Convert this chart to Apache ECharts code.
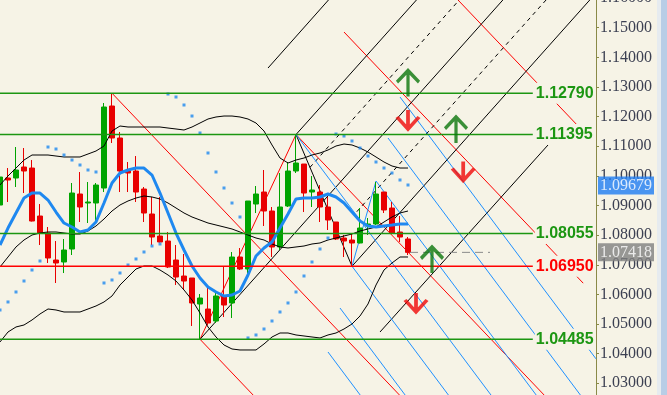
<!DOCTYPE html>
<html><head><meta charset="utf-8">
<script src="https://cdn.jsdelivr.net/npm/echarts@6/dist/echarts.min.js"></script>
<style>html,body{margin:0;padding:0;background:#f6f3e6;}#c{width:667px;height:395px;}</style>
</head><body><div id="c"></div>
<script>
// ---- candle data (open, close, low, high) ----
const opens  = [1.09016,1.09928,1.09928,1.10299,1.10265,1.08645,1.08071,1.07160,1.07093,1.07531,1.09388,1.09084,1.09084,1.09590,1.12358,1.11278,1.10164,1.10164,1.09556,1.08713,1.07970,1.07801,1.07160,1.06620,1.06553,1.05675,1.05506,1.05101,1.05945,1.05709,1.07261,1.06856,1.09050,1.09455,1.08814,1.07599,1.08983,1.10164,1.10400,1.09455,1.09455,1.08949,1.08443,1.07903,1.07835,1.07734,1.08308,1.08375,1.09455,1.08915,1.08105,1.07869];
const closes = [1.09961,1.09860,1.10198,1.10164,1.08476,1.08071,1.07228,1.07059,1.07498,1.09421,1.08949,1.09118,1.09691,1.12324,1.11278,1.10164,1.10096,1.09455,1.08746,1.07936,1.07768,1.06924,1.06586,1.06451,1.05709,1.05878,1.05034,1.05945,1.05641,1.07261,1.06856,1.09151,1.09388,1.08814,1.07599,1.08949,1.10164,1.10434,1.09421,1.09523,1.08949,1.08510,1.07869,1.07801,1.07734,1.08240,1.08375,1.09388,1.08848,1.08071,1.07936,1.07418];
const lows   = [1.08341,1.09118,1.09624,1.09421,1.08460,1.07666,1.07059,1.06384,1.06721,1.07329,1.08443,1.08409,1.08443,1.09455,1.11109,1.09455,1.09455,1.09118,1.08443,1.07666,1.07750,1.06890,1.06316,1.06148,1.04933,1.04485,1.04966,1.05034,1.05236,1.05203,1.06823,1.06688,1.08746,1.08308,1.07261,1.07498,1.08949,1.10096,1.08780,1.08949,1.08443,1.08173,1.07835,1.07261,1.06950,1.07720,1.08004,1.08341,1.08746,1.08060,1.07768,1.07329];
const highs  = [1.10771,1.10265,1.10974,1.10940,1.10535,1.09050,1.08274,1.07801,1.07869,1.09759,1.10130,1.09793,1.09759,1.12459,1.12790,1.11480,1.10468,1.10670,1.09624,1.09286,1.09286,1.08105,1.07666,1.07363,1.06553,1.06013,1.06316,1.06080,1.06924,1.07430,1.07565,1.09151,1.09658,1.10198,1.08949,1.10096,1.10468,1.11395,1.10400,1.09995,1.09691,1.09286,1.08443,1.08004,1.08038,1.08915,1.08578,1.09793,1.09455,1.09118,1.08645,1.07936];

// ---- indicators ----
const maValues = [1.07666,1.08240,1.08746,1.09253,1.09421,1.09421,1.09185,1.08780,1.08409,1.08274,1.08105,1.08173,1.08443,1.09084,1.09759,1.10096,1.10198,1.10265,1.10265,1.10029,1.09421,1.08746,1.08071,1.07498,1.06958,1.06553,1.06249,1.06080,1.05945,1.05979,1.06114,1.06654,1.07295,1.07565,1.07768,1.08240,1.08713,1.09219,1.09253,1.09253,1.09286,1.09388,1.09286,1.09084,1.08780,1.08476,1.08308,1.08274,1.08308,1.08341,1.08375,1.08375];
const bbUpper = [1.09692,1.09996,1.10265,1.10535,1.10704,1.10704,1.10704,1.10670,1.10637,1.10637,1.10637,1.10738,1.10839,1.11008,1.11514,1.11683,1.11649,1.11649,1.11649,1.11649,1.11649,1.11615,1.11582,1.11548,1.11649,1.11784,1.11919,1.11987,1.12020,1.12020,1.11987,1.11919,1.11784,1.11514,1.11042,1.10603,1.10434,1.10535,1.10603,1.10704,1.10772,1.10873,1.11008,1.11075,1.11042,1.10940,1.10805,1.10637,1.10468,1.10333,1.10265,1.10265];
const bbMiddle = [1.06925,1.07262,1.07600,1.07836,1.08004,1.08072,1.08106,1.08106,1.08072,1.08038,1.08038,1.08139,1.08308,1.08544,1.08814,1.09017,1.09152,1.09253,1.09321,1.09287,1.09219,1.09084,1.08916,1.08747,1.08612,1.08511,1.08409,1.08342,1.08275,1.08207,1.08106,1.08004,1.07903,1.07836,1.07701,1.07600,1.07566,1.07600,1.07633,1.07701,1.07735,1.07836,1.07903,1.07971,1.08038,1.08139,1.08207,1.08275,1.08443,1.08612,1.08747,1.08814];
const bbLower = [1.04394,1.04731,1.04900,1.04967,1.05136,1.05339,1.05507,1.05474,1.05406,1.05406,1.05406,1.05507,1.05609,1.05744,1.05946,1.06317,1.06587,1.06857,1.06958,1.06958,1.06823,1.06655,1.06452,1.06149,1.05811,1.05372,1.04900,1.04562,1.04292,1.04157,1.04124,1.04124,1.04124,1.04326,1.04562,1.04697,1.04697,1.04630,1.04596,1.04562,1.04529,1.04630,1.04697,1.04832,1.05001,1.05271,1.05676,1.06317,1.06823,1.07060,1.07262,1.07262];
const sarValues = [1.05474,1.05744,1.06081,1.06452,1.06823,1.07127,1.10974,1.10907,1.10704,1.10535,1.10367,1.10198,1.10131,1.06385,1.06486,1.06722,1.06992,1.07195,1.07431,1.07633,1.07701,1.12763,1.12662,1.12392,1.12020,1.11447,1.10772,1.10131,1.09591,1.09084,1.08612,1.04529,1.04630,1.04832,1.05102,1.05406,1.05710,1.06081,1.06621,1.07093,1.07532,1.07903,1.11413,1.11345,1.11177,1.10940,1.10670,1.10468,1.10265,1.10097,1.09861,1.09692];

// ---- horizontal levels ----
const levelValues = [1.12790, 1.11395, 1.08055, 1.06950, 1.04485];
const levelLabels = ['1.12790', '1.11395', '1.08055', '1.06950', '1.04485'];
const levelIsRed  = [false, false, false, true, false];
const levelEnd = 66.6;

// ---- trend lines: [[bar, price], [bar, price]] ----
const redLines = [
  [[14, 1.12790], [50.2, 1.02528]],
  [[25, 1.04485], [32, 1.02501]],
  [[25, 1.04485], [37, 1.11395]],
  [[37, 1.11395], [68.5, 1.02466]],
  [[43, 1.14855], [72.9, 1.06379]],
  [[56.9, 1.16036], [72.25, 1.11685]]
];
const blackLines = [
  [[25, 1.04485], [63.2, 1.16040]],
  [[37, 1.11395], [52.4, 1.16040]],
  [[44, 1.06950], [74.5, 1.16172]],
  [[47.5, 1.04730], [68.5, 1.11042]],
  [[33.5, 1.13640], [41.4, 1.16040]],
  [[37, 1.11395], [44, 1.06950]]
];
const dashedLines = [
  [[38.75, 1.10289], [57.75, 1.16040]],
  [[44.6, 1.08790], [68.6, 1.16040]]
];
const blueLines = [
  [[50, 1.12661], [74.5, 1.03824]],
  [[48.5, 1.11278], [73.0, 1.02441]],
  [[47, 1.09826], [67.5, 1.02432]],
  [[37, 1.11395], [62, 1.02378]],
  [[44, 1.06950], [56.5, 1.02442]],
  [[42.5, 1.05540], [51.1, 1.02438]],
  [[41, 1.04055], [45.5, 1.02432]],
  [[44, 1.06950], [47, 1.09826]]
];
const currentLine = [[51.25, 1.07418], [61.25, 1.07418]];
const upArrows = [[51, 1.13117], [57, 1.11548], [54, 1.07161]];
const downArrows = [[51, 1.11902], [57.9, 1.10164], [52, 1.05727]];
const priceTags = [{value: 1.09679, text: '1.09679', bg: '#1e7cf2'}, {value: 1.07418, text: '1.07418', bg: '#808080'}];

const BG = '#f6f3e6';
const GREEN = '#00a400', RED = '#e80000';
const LVL_G = '#1c9612', LVL_R = '#ff0000';
const BLUE = '#1e88f0';

const chart = echarts.init(document.getElementById('c'), null, {renderer: 'canvas'});
const series = [];

function seg(data, color, width, z, type) {
  return {type: 'line', data: data, symbol: 'none', silent: true, clip: true, z: z,
          lineStyle: {color: color, width: width, type: type || 'solid'}};
}
redLines.forEach(d => series.push(seg(d, '#ff0000', 1, 3)));
blackLines.forEach(d => series.push(seg(d, '#000000', 1, 3)));
dashedLines.forEach(d => series.push(seg(d, '#000000', 1, 3, [4, 4])));
blueLines.forEach(d => series.push(seg(d, '#1e90ff', 1, 3)));

series.push({
  type: 'candlestick', z: 4, barWidth: 5, silent: true,
  data: opens.map((o, i) => [i, o, closes[i], lows[i], highs[i]]),
  itemStyle: {color: GREEN, color0: RED, borderColor: GREEN, borderColor0: RED, borderWidth: 1}
});
[bbUpper, bbMiddle, bbLower].forEach(arr => series.push(seg(arr.map((v, i) => [i, v]), '#000000', 1, 5)));
series.push(seg(maValues.map((v, i) => [i, v]), BLUE, 3, 6));
series.push({type: 'scatter', z: 6, silent: true, symbol: 'rect', symbolSize: 3,
  data: sarValues.map((v, i) => [i, v]), itemStyle: {color: BLUE}});
series.push(seg(currentLine, '#8a8a8a', 1, 6, [8, 5]));

levelValues.forEach((v, k) => {
  const col = levelIsRed[k] ? LVL_R : LVL_G;
  series.push({
    type: 'line', z: 7, symbol: 'none', silent: true,
    data: [[-0.5, v], [levelEnd, v]],
    lineStyle: {color: col, width: 1.4},
    endLabel: {show: true, formatter: levelLabels[k], distance: 2, color: col,
      fontFamily: 'Liberation Sans, Arial, sans-serif', fontWeight: 'bold', fontSize: 16,
      backgroundColor: BG, padding: [3, 2, 2, 1]}
  });
});

const upPath = 'path://M0,12 L11,0 L22,12 M11,0 L11,27';
const downPath = 'path://M11,0 L11,19 M0,7 L11,19 L22,7';
series.push({type: 'scatter', z: 8, silent: true, symbol: upPath, symbolSize: [22, 26],
  data: upArrows, itemStyle: {color: 'rgba(0,0,0,0)', borderColor: '#0b760b', borderWidth: 3.5}});
series.push({type: 'scatter', z: 8, silent: true, symbol: downPath, symbolSize: [22, 19],
  data: downArrows, itemStyle: {color: 'rgba(0,0,0,0)', borderColor: '#f00808', borderWidth: 3.5}});

priceTags.forEach(t => {
  series.push({type: 'scatter', z: 9, silent: true, clip: false, symbolSize: 0,
    data: [[74.5, t.value]],
    label: {show: true, position: 'right', distance: 2, formatter: t.text, color: '#ffffff',
      fontFamily: 'Liberation Serif, serif', fontSize: 16, backgroundColor: t.bg, padding: [1, 2, 1, 2]}});
});

chart.setOption({
  animation: false,
  backgroundColor: BG,
  grid: {left: -4, right: 71, top: -1.9, bottom: -17.9, containLabel: false, outerBoundsMode: 'none'},
  xAxis: {type: 'value', min: -0.5, max: 74.5, show: false},
  yAxis: {type: 'value', position: 'right', min: 1.02, max: 1.16, interval: 0.01, scale: true,
    axisLine: {show: true, onZero: false, lineStyle: {color: '#8a8a48', width: 1}},
    axisTick: {show: true, length: 3, lineStyle: {color: '#8a8a48'}},
    splitLine: {show: false},
    axisLabel: {margin: 4, color: '#3c4052', fontFamily: 'Liberation Serif, serif', fontSize: 16,
      formatter: v => v.toFixed(5), showMinLabel: true, showMaxLabel: true}
  },
  graphic: [
    {type: 'rect', left: 657, top: 0, shape: {width: 4, height: 395}, style: {fill: '#e6ebef'}, silent: true},
    {type: 'rect', left: 661, top: 0, shape: {width: 6, height: 395}, style: {fill: '#b8cde6'}, silent: true}
  ],
  series: series
});
</script></body></html>
